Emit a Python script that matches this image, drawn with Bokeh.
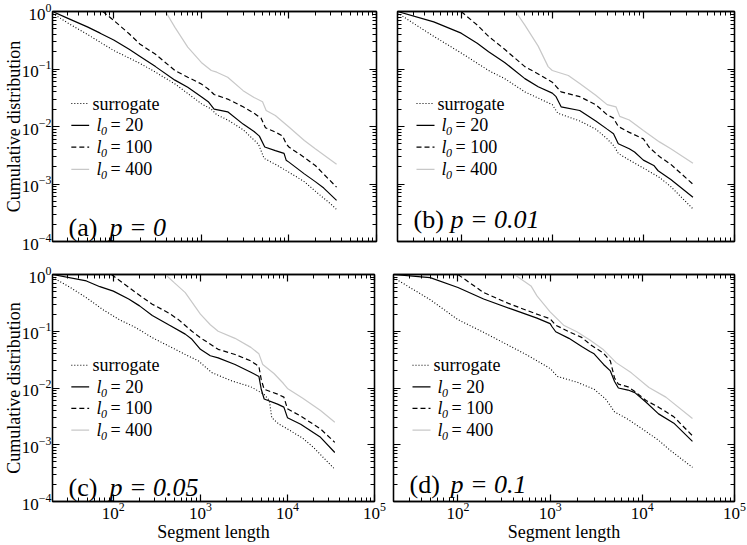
import math
from bokeh.plotting import figure
from bokeh.models import LogAxis, LogTicker, Label
from bokeh.layouts import column, row
from bokeh.embed import file_html
from bokeh.resources import INLINE

FONT = "Liberation Serif"
X_MIN, X_MAX = 20, 1e5
Y_MIN, Y_MAX = 1e-4, 1.0
X_TITLE = "Segment length"
Y_TITLE = "Cumulative distribution"
PANEL_TAGS = ["(a)", "(b)", "(c)", "(d)"]
PANEL_P = ["p = 0", "p = 0.01", "p = 0.05", "p = 0.1"]
LEGEND_SURROGATE = "surrogate"
L0_VALUES = ["20", "100", "400"]

# ---------------- panel (a) p = 0 ----------------
A_SUR_X = [20, 30, 50, 100, 200, 300, 500, 1000, 1300, 1500, 2000, 3000, 4000, 4500, 5200, 7000, 10000, 15000, 20000, 30000, 35000]
A_SUR_Y = [0.93, 0.63, 0.40, 0.21, 0.125, 0.088, 0.055, 0.025, 0.020, 0.016, 0.0130, 0.0088, 0.0058, 0.0049, 0.0028, 0.0022, 0.0016, 0.0011, 0.00075, 0.00045, 0.00036]
A_L20_X = [20, 30, 50, 70, 100, 150, 200, 300, 500, 700, 1000, 1200, 1400, 2000, 3000, 4000, 4600, 5300, 7000, 8800, 9300, 10000, 15000, 20000, 25000, 35000]
A_L20_Y = [1.0, 0.76, 0.54, 0.42, 0.32, 0.22, 0.165, 0.11, 0.064, 0.048, 0.033, 0.027, 0.020, 0.018, 0.011, 0.0082, 0.0068, 0.0044, 0.0038, 0.0034, 0.0026, 0.0024, 0.0015, 0.0011, 0.00085, 0.00052]
A_L100_X = [75, 100, 150, 200, 300, 500, 700, 1000, 1200, 1400, 2000, 3000, 4000, 4800, 5400, 7000, 8500, 9300, 10000, 15000, 20000, 35000]
A_L100_Y = [1.0, 0.70, 0.41, 0.27, 0.18, 0.094, 0.072, 0.055, 0.045, 0.036, 0.030, 0.022, 0.017, 0.014, 0.0095, 0.0080, 0.0068, 0.0050, 0.0044, 0.0029, 0.0021, 0.00088]
A_L400_X = [390, 500, 700, 1000, 1300, 1500, 2000, 3000, 4000, 5000, 5500, 7000, 10000, 15000, 20000, 35000]
A_L400_Y = [1.0, 0.53, 0.24, 0.13, 0.094, 0.088, 0.072, 0.042, 0.032, 0.027, 0.019, 0.0155, 0.0098, 0.0057, 0.0041, 0.0022]

# ---------------- panel (b) p = 0.01 ----------------
B_SUR_X = [20, 30, 50, 100, 200, 300, 500, 1000, 1150, 2000, 3000, 4000, 4800, 5300, 7000, 10000, 15000, 20000, 35000]
B_SUR_Y = [0.95, 0.62, 0.37, 0.19, 0.094, 0.068, 0.040, 0.024, 0.017, 0.0125, 0.0090, 0.0061, 0.0045, 0.0034, 0.0026, 0.0019, 0.0013, 0.00090, 0.00037]
B_L20_X = [20, 50, 100, 150, 200, 300, 500, 700, 1000, 1100, 1250, 2000, 3000, 4000, 4700, 5300, 7000, 8000, 10000, 13000, 14500, 20000, 35000]
B_L20_Y = [1.0, 0.66, 0.42, 0.28, 0.20, 0.13, 0.068, 0.049, 0.038, 0.033, 0.022, 0.019, 0.0125, 0.0090, 0.0075, 0.0050, 0.0041, 0.0036, 0.0026, 0.0021, 0.0017, 0.0012, 0.00059]
B_L100_X = [100, 150, 200, 300, 500, 700, 1000, 1100, 1250, 2000, 3000, 4000, 4700, 5300, 7000, 10000, 11500, 15000, 20000, 35000]
B_L100_Y = [1.0, 0.58, 0.37, 0.22, 0.11, 0.082, 0.059, 0.050, 0.040, 0.033, 0.024, 0.016, 0.014, 0.010, 0.0079, 0.0061, 0.0044, 0.0030, 0.0022, 0.00099]
B_L400_X = [395, 500, 700, 900, 1000, 1500, 2000, 3000, 4000, 5000, 5500, 7000, 10000, 15000, 20000, 35000]
B_L400_Y = [1.0, 0.58, 0.25, 0.11, 0.094, 0.077, 0.056, 0.035, 0.024, 0.022, 0.015, 0.013, 0.0085, 0.0054, 0.0041, 0.0023]

# ---------------- panel (c) p = 0.05 ----------------
C_SUR_X = [20, 32, 49, 76, 117, 181, 280, 432, 670, 950, 1350, 2300, 3800, 5400, 6200, 6600, 8000, 10000, 15000, 20000, 35000]
C_SUR_Y = [0.89, 0.59, 0.39, 0.24, 0.16, 0.116, 0.077, 0.055, 0.039, 0.030, 0.0187, 0.0133, 0.0105, 0.0077, 0.0060, 0.0030, 0.0023, 0.0019, 0.0013, 0.00089, 0.00037]
C_L20_X = [20, 49, 70, 100, 150, 200, 280, 432, 670, 800, 1000, 1300, 1600, 2500, 3800, 4700, 5000, 5400, 7700, 9100, 10000, 14200, 24000, 35000]
C_L20_Y = [1.0, 0.77, 0.61, 0.51, 0.37, 0.28, 0.19, 0.13, 0.089, 0.072, 0.048, 0.037, 0.034, 0.026, 0.019, 0.016, 0.0095, 0.0064, 0.0052, 0.0046, 0.0030, 0.0023, 0.00135, 0.00073]
C_L100_X = [95, 181, 280, 432, 560, 800, 1000, 1600, 2500, 3800, 4700, 5000, 5400, 7700, 9100, 10000, 14200, 24000, 35000]
C_L100_Y = [1.0, 0.48, 0.30, 0.21, 0.16, 0.10, 0.077, 0.048, 0.039, 0.030, 0.024, 0.014, 0.0095, 0.0078, 0.0069, 0.0043, 0.0032, 0.0019, 0.0011]
C_L400_X = [396, 500, 670, 1000, 1300, 1600, 2500, 3800, 4700, 5200, 7000, 9000, 10000, 15000, 24000, 35000]
C_L400_Y = [1.0, 0.72, 0.48, 0.20, 0.13, 0.10, 0.075, 0.052, 0.040, 0.026, 0.018, 0.012, 0.0098, 0.0066, 0.0040, 0.0025]

# ---------------- panel (d) p = 0.1 ----------------
D_SUR_X = [20, 50, 100, 180, 300, 600, 1000, 1200, 2000, 3000, 4000, 5000, 7000, 10000, 15000, 20000, 35000]
D_SUR_Y = [0.88, 0.36, 0.16, 0.10, 0.065, 0.036, 0.022, 0.016, 0.0125, 0.0095, 0.0064, 0.0038, 0.0028, 0.0019, 0.0012, 0.00080, 0.00040]
D_L20_X = [20, 40, 50, 100, 190, 370, 720, 1000, 1050, 1150, 1600, 2200, 2700, 3000, 3800, 4500, 5000, 5500, 7000, 8300, 11000, 15000, 22000, 35000]
D_L20_Y = [1.0, 0.91, 0.88, 0.59, 0.37, 0.25, 0.17, 0.136, 0.12, 0.098, 0.075, 0.054, 0.044, 0.040, 0.026, 0.020, 0.013, 0.010, 0.0092, 0.0083, 0.0056, 0.0035, 0.0024, 0.00115]
D_L100_X = [100, 190, 370, 720, 1000, 1150, 1600, 2200, 2700, 3800, 4500, 5000, 5500, 7000, 8300, 11000, 15000, 22000, 35000]
D_L100_Y = [1.0, 0.48, 0.30, 0.20, 0.166, 0.128, 0.098, 0.078, 0.059, 0.041, 0.030, 0.015, 0.0117, 0.0105, 0.0087, 0.0060, 0.0046, 0.0031, 0.00144]
D_L400_X = [410, 620, 720, 1000, 1400, 1950, 2700, 3800, 5200, 7600, 11800, 18000, 35000]
D_L400_Y = [1.0, 0.63, 0.42, 0.22, 0.128, 0.098, 0.070, 0.047, 0.028, 0.0185, 0.0102, 0.0069, 0.0029]

SERIES_STYLE = [
    dict(line_color="black", line_dash="1 2", line_width=1.1),
    dict(line_color="black", line_dash="solid", line_width=1.2),
    dict(line_color="black", line_dash="5 3", line_width=1.2),
    dict(line_color="#c8c8c8", line_dash="solid", line_width=1.2),
]

LEGEND_ROWS = [0.40, 0.495, 0.59, 0.686]   # fraction of frame height from top


def style_axis(ax, show_labels):
    ax.ticker = LogTicker(num_minor_ticks=10, desired_num_ticks=6)
    ax.axis_line_color = "black"
    ax.axis_line_width = 1.3
    ax.major_tick_in = 7
    ax.major_tick_out = 0
    ax.minor_tick_in = 4
    ax.minor_tick_out = 0
    ax.major_tick_line_color = "black"
    ax.minor_tick_line_color = "black"
    ax.major_tick_line_width = 1.2
    ax.minor_tick_line_width = 1.0
    ax.major_label_text_font = FONT
    if show_labels:
        ax.major_label_text_color = "black"
        ax.major_label_standoff = 1
        ax.major_label_text_font_size = "17px"
    else:
        ax.major_label_text_color = None
        ax.major_label_standoff = 0
        ax.major_label_text_font_size = "1px"
    ax.axis_label_text_font = FONT
    ax.axis_label_text_font_size = "18px"
    ax.axis_label_text_font_style = "normal"
    ax.axis_label_text_color = "black"
    ax.axis_label_standoff = 0


def make_panel(k, series, w, h, mb, show_x, show_y, tag_dy, p_dx):
    left, right, top, bottom = mb
    p = figure(width=w, height=h, x_axis_type="log", y_axis_type="log",
               x_range=(X_MIN, X_MAX), y_range=(Y_MIN, Y_MAX),
               output_backend="svg", toolbar_location=None,
               min_border_left=left, min_border_right=right,
               min_border_top=top, min_border_bottom=bottom)
    p.add_layout(LogAxis(), "above")
    p.add_layout(LogAxis(), "right")
    p.xgrid.visible = False
    p.ygrid.visible = False
    p.outline_line_color = "black"
    p.outline_line_width = 1.3
    p.border_fill_color = "white"
    p.background_fill_color = "white"
    for ax in p.above + p.right:
        style_axis(ax, False)
    style_axis(p.below[0], show_x)
    style_axis(p.left[0], show_y)
    if show_x:
        p.below[0].axis_label = X_TITLE
    if show_y:
        p.left[0].axis_label = Y_TITLE
        p.left[0].axis_label_standoff = -5

    for (xs, ys), st in zip(series, SERIES_STYLE):
        p.line(xs, ys, **st)

    # legend (keys + mixed-style text)
    fw = w - left - right
    lx0, lx1 = math.log10(X_MIN), math.log10(X_MAX)
    kx0 = 10 ** (lx0 + 19.0 / fw * (lx1 - lx0))
    kx1 = 10 ** (lx0 + 37.0 / fw * (lx1 - lx0))
    for i, frac in enumerate(LEGEND_ROWS):
        yr = 10 ** (math.log10(Y_MAX) - frac * (math.log10(Y_MAX) - math.log10(Y_MIN)))
        p.line([kx0, kx1], [yr, yr], **SERIES_STYLE[i])
        common = dict(x=X_MIN, y=yr, text_font=FONT, text_color="black",
                      text_baseline="middle", text_align="left")
        if i == 0:
            p.add_layout(Label(text=LEGEND_SURROGATE, x_offset=40, text_font_size="18px", **common))
        else:
            p.add_layout(Label(text="l", x_offset=44, text_font_size="18px",
                               text_font_style="italic", **common))
            p.add_layout(Label(text="0", x_offset=48.5, y_offset=-6, text_font_size="12px",
                               text_font_style="italic", **common))
            p.add_layout(Label(text="= " + L0_VALUES[i - 1], x_offset=58,
                               text_font_size="18px", **common))

    tagc = dict(x=X_MIN, y=Y_MIN, y_offset=tag_dy, text_font=FONT, text_color="black",
                text_font_size="26px", text_baseline="alphabetic", text_align="left")
    p.add_layout(Label(text=PANEL_TAGS[k], x_offset=16, **tagc))
    p.add_layout(Label(text=PANEL_P[k], x_offset=p_dx, text_font_style="italic", **tagc))
    return p


SERIES_A = [(A_SUR_X, A_SUR_Y), (A_L20_X, A_L20_Y), (A_L100_X, A_L100_Y), (A_L400_X, A_L400_Y)]
SERIES_B = [(B_SUR_X, B_SUR_Y), (B_L20_X, B_L20_Y), (B_L100_X, B_L100_Y), (B_L400_X, B_L400_Y)]
SERIES_C = [(C_SUR_X, C_SUR_Y), (C_L20_X, C_L20_Y), (C_L100_X, C_L100_Y), (C_L400_X, C_L400_Y)]
SERIES_D = [(D_SUR_X, D_SUR_Y), (D_L20_X, D_L20_Y), (D_L100_X, D_L100_Y), (D_L400_X, D_L400_Y)]

# (left, right, top, bottom) borders
pa = make_panel(0, SERIES_A, 386, 258, (49, 10, 11, 17), False, True, 14, 57)
pb = make_panel(1, SERIES_B, 361, 258, (11, 13, 11, 11), False, False, 22, 53)
pc = make_panel(2, SERIES_C, 386, 287, (49, 12, 16, 44), True, True, 14, 57)
pd = make_panel(3, SERIES_D, 361, 287, (7, 13, 12, 44), True, False, 17, 57)

layout = column(row(pa, pb), row(pc, pd))
open("out.html", "w").write(file_html(layout, INLINE))
